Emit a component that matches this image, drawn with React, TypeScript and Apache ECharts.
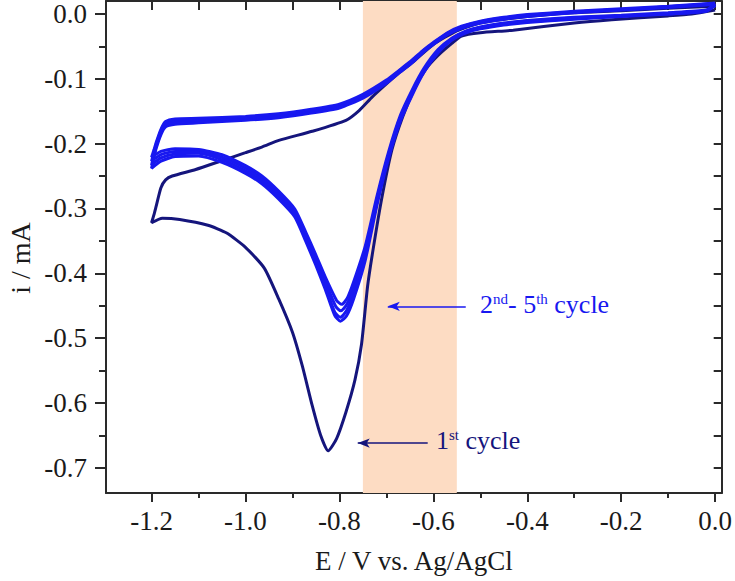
import React, { useEffect, useRef } from "react";
import * as echarts from "echarts";

// ---- tick values ----
const xMajorTicks = [-1.2, -1.0, -0.8, -0.6, -0.4, -0.2, 0.0];
const xMinorTicks = [-1.1, -0.9, -0.7, -0.5, -0.3, -0.1];
const xTopTicks = [-1.2, -1.1, -1.0, -0.9, -0.8, -0.7, -0.6, -0.5, -0.4, -0.3, -0.2, -0.1, 0.0];
const yMajorTicks = [0.0, -0.1, -0.2, -0.3, -0.4, -0.5, -0.6, -0.7];
const yMinorTicks = [-0.05, -0.15, -0.25, -0.35, -0.45, -0.55, -0.65];
const yRightTicks = [0.0, -0.05, -0.1, -0.15, -0.2, -0.25, -0.3, -0.35, -0.4, -0.45, -0.5, -0.55, -0.6, -0.65, -0.7];

// ---- highlighted potential window ----
const bandRange = [-0.75, -0.55];

// ---- 1st cycle (E / V, i / mA) ----
const cycle1: number[][] = [
  [0.0, 0.006], [-0.05, 0.0], [-0.1, -0.003], [-0.22, -0.009], [-0.3, -0.014], [-0.43, -0.025],
  [-0.5, -0.029], [-0.54, -0.034], [-0.56, -0.045], [-0.59, -0.064], [-0.616, -0.085], [-0.64, -0.115],
  [-0.665, -0.158], [-0.688, -0.209], [-0.71, -0.285], [-0.728, -0.362], [-0.74, -0.42], [-0.753, -0.51],
  [-0.767, -0.565], [-0.786, -0.614], [-0.806, -0.655], [-0.824, -0.674], [-0.84, -0.650], [-0.858, -0.604],
  [-0.879, -0.543], [-0.9, -0.491], [-0.929, -0.440], [-0.96, -0.392], [-1.0, -0.360], [-1.04, -0.338],
  [-1.08, -0.326], [-1.14, -0.317], [-1.177, -0.315], [-1.2, -0.322],
  [-1.195, -0.31], [-1.19, -0.296], [-1.18, -0.268], [-1.17, -0.256], [-1.156, -0.25], [-1.106, -0.240],
  [-1.049, -0.226], [-1.0, -0.214], [-0.964, -0.205], [-0.929, -0.195], [-0.858, -0.181], [-0.786, -0.164],
  [-0.758, -0.149], [-0.73, -0.128], [-0.7, -0.108], [-0.673, -0.091], [-0.645, -0.075], [-0.6, -0.047],
  [-0.55, -0.026], [-0.5, -0.014], [-0.4, -0.004], [-0.3, 0.002], [-0.2, 0.005], [-0.1, 0.009], [0.0, 0.012],
];

// ---- 2nd cycle ----
const cycle2: number[][] = [
  [0.0, 0.014], [-0.02, 0.004], [-0.1, 0.0], [-0.2, -0.004], [-0.3, -0.008], [-0.4, -0.013],
  [-0.45, -0.017], [-0.5, -0.023], [-0.53, -0.029], [-0.56, -0.040], [-0.59, -0.060], [-0.62, -0.090],
  [-0.645, -0.125], [-0.67, -0.165], [-0.695, -0.222], [-0.72, -0.295], [-0.745, -0.380], [-0.77, -0.440],
  [-0.785, -0.466], [-0.798, -0.474], [-0.81, -0.465], [-0.83, -0.425], [-0.85, -0.388], [-0.872, -0.350],
  [-0.895, -0.313], [-0.93, -0.285], [-0.965, -0.262], [-1.0, -0.246], [-1.05, -0.229], [-1.1, -0.219],
  [-1.15, -0.220], [-1.18, -0.227], [-1.2, -0.238],
  [-1.195, -0.222], [-1.19, -0.207], [-1.18, -0.186], [-1.17, -0.174], [-1.15, -0.170], [-1.1, -0.168],
  [-1.0, -0.164], [-0.93, -0.160], [-0.86, -0.153], [-0.8, -0.145], [-0.75, -0.130], [-0.7, -0.107],
  [-0.673, -0.091], [-0.645, -0.075], [-0.62, -0.058], [-0.6, -0.047], [-0.57, -0.032], [-0.54, -0.022],
  [-0.5, -0.014], [-0.45, -0.008], [-0.4, -0.004], [-0.3, 0.002], [-0.2, 0.006], [-0.1, 0.010], [0.0, 0.015],
];

// ---- 3rd cycle ----
const cycle3: number[][] = [
  [0.0, 0.013], [-0.02, 0.004], [-0.1, 0.0], [-0.2, -0.003], [-0.3, -0.007], [-0.4, -0.012],
  [-0.45, -0.016], [-0.5, -0.022], [-0.53, -0.028], [-0.56, -0.039], [-0.59, -0.058], [-0.62, -0.088],
  [-0.645, -0.122], [-0.67, -0.162], [-0.695, -0.219], [-0.72, -0.290], [-0.745, -0.373], [-0.77, -0.432],
  [-0.785, -0.458], [-0.798, -0.468], [-0.81, -0.460], [-0.83, -0.420], [-0.85, -0.383], [-0.872, -0.346],
  [-0.895, -0.309], [-0.93, -0.281], [-0.965, -0.258], [-1.0, -0.242], [-1.05, -0.225], [-1.1, -0.215],
  [-1.15, -0.216], [-1.18, -0.222], [-1.2, -0.233],
  [-1.195, -0.218], [-1.19, -0.204], [-1.18, -0.183], [-1.17, -0.171], [-1.15, -0.167], [-1.1, -0.165],
  [-1.0, -0.162], [-0.93, -0.158], [-0.86, -0.151], [-0.8, -0.143], [-0.75, -0.128], [-0.7, -0.105],
  [-0.673, -0.089], [-0.645, -0.073], [-0.62, -0.057], [-0.6, -0.046], [-0.57, -0.031], [-0.54, -0.021],
  [-0.5, -0.013], [-0.45, -0.007], [-0.4, -0.003], [-0.3, 0.003], [-0.2, 0.007], [-0.1, 0.011], [0.0, 0.015],
];

// ---- 4th cycle ----
const cycle4: number[][] = [
  [0.0, 0.013], [-0.02, 0.005], [-0.1, 0.001], [-0.2, -0.003], [-0.3, -0.006], [-0.4, -0.011],
  [-0.45, -0.015], [-0.5, -0.021], [-0.53, -0.027], [-0.56, -0.038], [-0.59, -0.057], [-0.62, -0.086],
  [-0.645, -0.120], [-0.67, -0.159], [-0.695, -0.216], [-0.72, -0.286], [-0.745, -0.366], [-0.77, -0.423],
  [-0.785, -0.449], [-0.797, -0.458], [-0.808, -0.451], [-0.83, -0.413], [-0.85, -0.378], [-0.872, -0.341],
  [-0.895, -0.305], [-0.93, -0.277], [-0.965, -0.254], [-1.0, -0.238], [-1.05, -0.221], [-1.1, -0.212],
  [-1.15, -0.212], [-1.18, -0.217], [-1.2, -0.227],
  [-1.195, -0.214], [-1.19, -0.201], [-1.18, -0.180], [-1.17, -0.168], [-1.15, -0.164], [-1.1, -0.163],
  [-1.0, -0.160], [-0.93, -0.156], [-0.86, -0.149], [-0.8, -0.141], [-0.75, -0.126], [-0.7, -0.104],
  [-0.673, -0.088], [-0.645, -0.072], [-0.62, -0.056], [-0.6, -0.045], [-0.57, -0.030], [-0.54, -0.020],
  [-0.5, -0.012], [-0.45, -0.006], [-0.4, -0.002], [-0.3, 0.003], [-0.2, 0.007], [-0.1, 0.011], [0.0, 0.016],
];

// ---- 5th cycle ----
const cycle5: number[][] = [
  [0.0, 0.016], [-0.02, 0.006], [-0.1, 0.002], [-0.2, -0.002], [-0.3, -0.005], [-0.4, -0.010],
  [-0.45, -0.014], [-0.5, -0.020], [-0.53, -0.026], [-0.56, -0.037], [-0.59, -0.055], [-0.62, -0.084],
  [-0.645, -0.117], [-0.67, -0.156], [-0.695, -0.212], [-0.72, -0.281], [-0.745, -0.358], [-0.77, -0.414],
  [-0.783, -0.438], [-0.795, -0.448], [-0.806, -0.442], [-0.83, -0.406], [-0.85, -0.372], [-0.872, -0.336],
  [-0.895, -0.301], [-0.93, -0.273], [-0.965, -0.250], [-1.0, -0.234], [-1.05, -0.217], [-1.1, -0.209],
  [-1.15, -0.208], [-1.18, -0.212], [-1.2, -0.221],
  [-1.195, -0.210], [-1.19, -0.198], [-1.18, -0.178], [-1.17, -0.166], [-1.15, -0.162], [-1.1, -0.161],
  [-1.0, -0.158], [-0.93, -0.154], [-0.86, -0.147], [-0.8, -0.139], [-0.75, -0.124], [-0.7, -0.102],
  [-0.673, -0.087], [-0.645, -0.071], [-0.62, -0.055], [-0.6, -0.044], [-0.57, -0.029], [-0.54, -0.019],
  [-0.5, -0.011], [-0.45, -0.005], [-0.4, -0.001], [-0.3, 0.004], [-0.2, 0.008], [-0.1, 0.012], [0.0, 0.017],
];

// ---- annotation arrows (E range, i level) ----
const arrowLater = { from: -0.531, to: -0.697, level: -0.451 };
const arrowFirst = { from: -0.612, to: -0.761, level: -0.662 };

const NAVY = "#15157c";
const BLUE = "#1818f0";
const AXIS = "#2a2a2a";
const FONT = "Liberation Serif";
const X_MIN = -1.297;
const X_MAX = 0.014;
const Y_MIN = -0.739;
const Y_MAX = 0.02;

export default function App() {
  const ref = useRef<HTMLDivElement>(null);

  useEffect(() => {
    if (!ref.current) return;
    const chart = echarts.init(ref.current, null, { renderer: "svg" });

    const baseX = { type: "value", min: X_MIN, max: X_MAX, splitLine: { show: false }, gridIndex: 0 };
    const baseY = { type: "value", min: Y_MIN, max: Y_MAX, splitLine: { show: false }, gridIndex: 0 };
    const noLabel = { show: false };
    const line = (show: boolean) => ({ show, onZero: false, lineStyle: { color: AXIS, width: 2 } });
    const tick = (inside: boolean, length: number, values: number[]) => ({
      show: true,
      inside,
      length,
      customValues: values,
      lineStyle: { color: AXIS, width: 2 },
    });

    const curve = (name: string, data: number[][], color: string, z: number) => ({
      name,
      type: "line",
      data,
      showSymbol: false,
      symbol: "none",
      smooth: 0.2,
      z,
      lineStyle: { color, width: 3 },
      xAxisIndex: 0,
      yAxisIndex: 0,
    });

    const arrowLine = (a: { from: number; to: number; level: number }, color: string) => ({
      type: "line",
      data: [],
      xAxisIndex: 0,
      yAxisIndex: 0,
      z: 5,
      markLine: {
        silent: true,
        animation: false,
        label: { show: false },
        symbol: ["none", "arrow"],
        symbolSize: [7, 12],
        lineStyle: { color, width: 1.6, type: "solid" },
        data: [[{ coord: [a.from, a.level] }, { coord: [a.to, a.level] }]],
      },
    });

    chart.setOption({
      animation: false,
      backgroundColor: "#ffffff",
      grid: { left: 106, right: 13, top: 1, bottom: 88, containLabel: false },
      xAxis: [
        {
          ...baseX,
          position: "bottom",
          name: "E / V vs. Ag/AgCl",
          nameLocation: "middle",
          nameGap: 54,
          nameTextStyle: { fontFamily: FONT, fontSize: 27, color: "#1a1a1a" },
          axisLine: line(true),
          axisTick: tick(false, 9, xMajorTicks),
          axisLabel: {
            show: true,
            customValues: xMajorTicks,
            margin: 14,
            fontFamily: FONT,
            fontSize: 27,
            color: "#1a1a1a",
            formatter: (v: number) => v.toFixed(1),
          },
        },
        {
          ...baseX,
          position: "bottom",
          axisLine: line(false),
          axisTick: tick(false, 5, xMinorTicks),
          axisLabel: noLabel,
        },
        {
          ...baseX,
          position: "top",
          axisLine: line(true),
          axisTick: tick(true, 9, xTopTicks),
          axisLabel: noLabel,
        },
      ],
      yAxis: [
        {
          ...baseY,
          position: "left",
          axisLine: line(true),
          axisTick: tick(false, 11, yMajorTicks),
          axisLabel: {
            show: true,
            customValues: yMajorTicks,
            margin: 19,
            fontFamily: FONT,
            fontSize: 27,
            color: "#1a1a1a",
            formatter: (v: number) => v.toFixed(1),
          },
        },
        {
          ...baseY,
          position: "left",
          axisLine: line(false),
          axisTick: tick(false, 7, yMinorTicks),
          axisLabel: noLabel,
        },
        {
          ...baseY,
          position: "right",
          axisLine: line(true),
          axisTick: tick(true, 8, yRightTicks),
          axisLabel: noLabel,
        },
      ],
      series: [
        {
          type: "line",
          data: [],
          xAxisIndex: 0,
          yAxisIndex: 0,
          z: 0,
          markArea: {
            silent: true,
            itemStyle: { color: "#fddcc3", opacity: 1 },
            data: [[{ xAxis: bandRange[0] }, { xAxis: bandRange[1] }]],
          },
        },
        curve("1st cycle", cycle1, NAVY, 2),
        curve("2nd cycle", cycle2, BLUE, 3),
        curve("3rd cycle", cycle3, BLUE, 3),
        curve("4th cycle", cycle4, BLUE, 3),
        curve("5th cycle", cycle5, BLUE, 3),
        arrowLine(arrowLater, BLUE),
        arrowLine(arrowFirst, NAVY),
      ],
      graphic: [
        {
          type: "text",
          x: 20,
          y: 258,
          rotation: Math.PI / 2,
          z: 10,
          style: {
            text: "i / mA",
            fontFamily: FONT,
            fontSize: 28,
            fill: "#1a1a1a",
            align: "center",
            verticalAlign: "middle",
          },
        },
        {
          type: "text",
          left: 480,
          top: 291,
          z: 10,
          style: {
            text: "{a|2}{b|nd}{a|- 5}{b|th}{a| cycle}",
            rich: {
              a: { fontFamily: FONT, fontSize: 26, fill: BLUE, color: BLUE },
              b: { fontFamily: FONT, fontSize: 15, fill: BLUE, color: BLUE, verticalAlign: "top" },
            },
          },
        },
        {
          type: "text",
          left: 436,
          top: 427,
          z: 10,
          style: {
            text: "{a|1}{b|st}{a| cycle}",
            rich: {
              a: { fontFamily: FONT, fontSize: 26, fill: NAVY, color: NAVY },
              b: { fontFamily: FONT, fontSize: 15, fill: NAVY, color: NAVY, verticalAlign: "top" },
            },
          },
        },
      ],
    });

    return () => chart.dispose();
  }, []);

  return (
    <div
      ref={ref}
      style={{ position: "absolute", left: 0, top: 0, width: 735, height: 581, background: "#fff" }}
    />
  );
}
